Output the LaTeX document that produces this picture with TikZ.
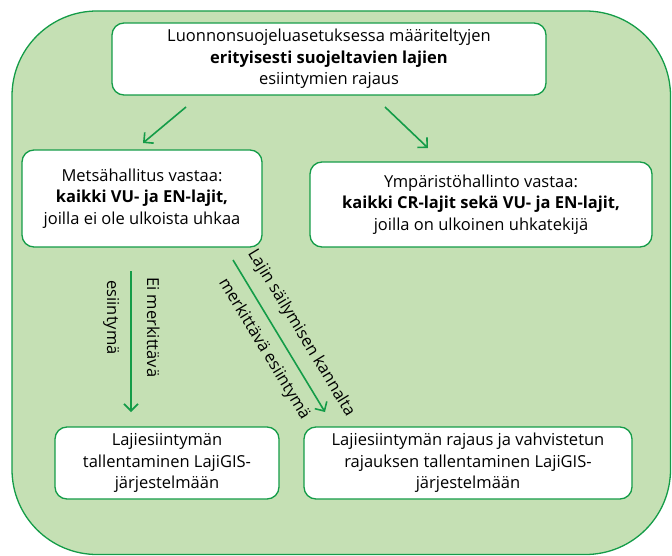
\documentclass[tikz,border=0pt]{standalone}
\usepackage{fontspec}
\setmainfont{Open Sans}
\usetikzlibrary{arrows.meta}
\definecolor{kehys}{RGB}{20,156,72}
\definecolor{tausta}{RGB}{197,224,180}

\begin{document}
\begin{tikzpicture}[x=1pt,y=-1pt,
    every node/.style={font=\fontsize{16.5}{21.5}\selectfont},
    laatikko/.style={draw=kehys,fill=white,line width=1.3pt,rounded corners=12pt,align=center,inner sep=0pt},
    nuoli/.style={draw=kehys,line width=1.6pt,-{Straight Barb[length=7pt,width=14pt]}},
    selite/.style={inner sep=0pt,outer sep=12pt,text height=12pt,text depth=4pt}]
  \useasboundingbox (0,0) rectangle (672,556);
  \draw[draw=kehys,fill=tausta,line width=1.3pt,rounded corners=85pt] (12,11) rectangle (670.5,554.5);
  % laatikot
  \node[laatikko,minimum width=434pt,minimum height=72pt] (rajaus) at (329,59)
    {Luonnonsuojeluasetuksessa määriteltyjen\\\textbf{erityisesti suojeltavien lajien}\\esiintymien rajaus};
  \node[laatikko,minimum width=240pt,minimum height=97pt] (mh) at (142,198.5)
    {Metsähallitus vastaa:\\\textbf{kaikki VU- ja EN-lajit,}\\joilla ei ole ulkoista uhkaa};
  \node[laatikko,minimum width=342pt,minimum height=85pt] (ymp) at (481,204.5)
    {Ympäristöhallinto vastaa:\\\textbf{kaikki CR-lajit sekä VU- ja EN-lajit,}\\joilla on ulkoinen uhkatekijä};
  \node[laatikko,minimum width=224pt,minimum height=72pt] (tall) at (167,463)
    {Lajiesiintymän\\tallentaminen LajiGIS-\\järjestelmään};
  \node[laatikko,minimum width=328pt,minimum height=72pt] (vahv) at (468,463)
    {Lajiesiintymän rajaus ja vahvistetun\\rajauksen tallentaminen LajiGIS-\\järjestelmään};
  % nuolet
  \coordinate (n1a) at (186,107); \coordinate (n1b) at (143,143);
  \coordinate (n2a) at (385,107); \coordinate (n2b) at (428,148);
  \coordinate (n3a) at (131,271); \coordinate (n3b) at (131,412);
  \coordinate (n4a) at (233,260); \coordinate (n4b) at (325,412);
  \draw[nuoli] (n1a) -- (n1b);
  \draw[nuoli] (n2a) -- (n2b);
  \draw[nuoli] (n3a) -- (n3b)
    node[selite,pos=.4,rotate=-90,anchor=south] (ei1) {Ei merkittävä}
    node[selite,pos=.33,rotate=-90,anchor=north] (ei2) {esiintymä};
  \draw[nuoli] (n4a) -- (n4b)
    node[selite,pos=.55,sloped,anchor=south] (lm1) {Lajin säilymisen kannalta}
    node[selite,pos=.52,sloped,anchor=north] (lm2) {merkittävä esiintymä};
\end{tikzpicture}
\end{document}
